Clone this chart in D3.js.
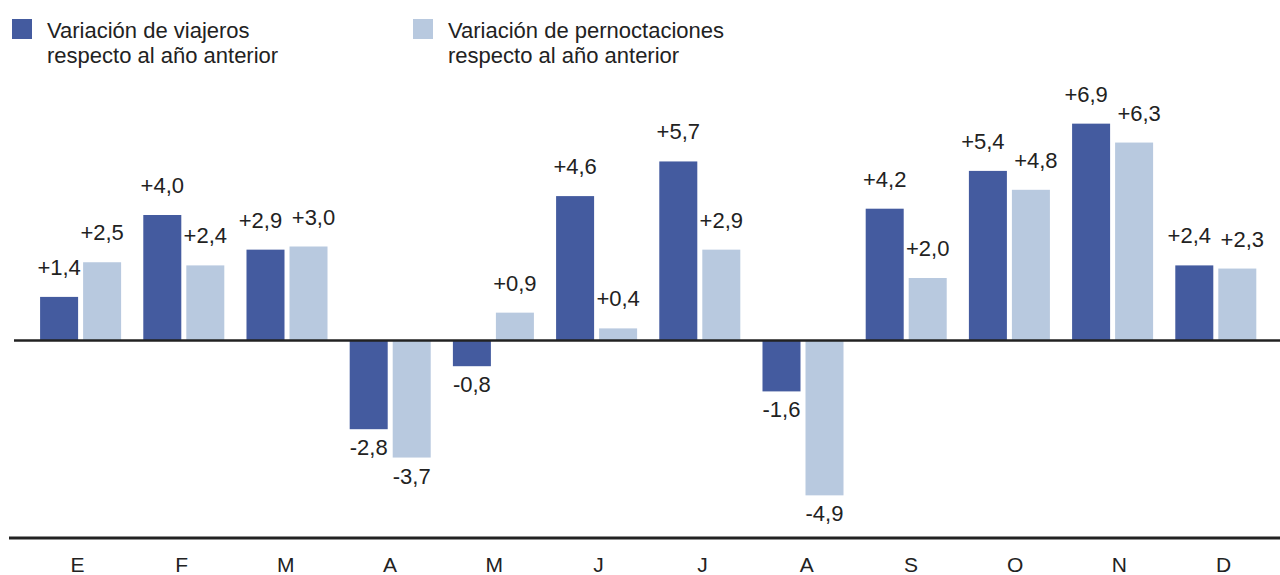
<!DOCTYPE html>
<html>
<head>
<meta charset="utf-8">
<script src="https://cdn.jsdelivr.net/npm/d3@7"></script>
<style>
  html, body { margin: 0; padding: 0; background: #fff; }
  svg { display: block; font-family: "Liberation Sans", Arial, Helvetica, sans-serif; }
</style>
</head>
<body>
<svg id="chart" width="1280" height="575"></svg>
<script>
const months = ["E","F","M","A","M","J","J","A","S","O","N","D"];
const viajeros = [1.4, 4.0, 2.9, -2.8, -0.8, 4.6, 5.7, -1.6, 4.2, 5.4, 6.9, 2.4];
const pernoctaciones = [2.5, 2.4, 3.0, -3.7, 0.9, 0.4, 2.9, -4.9, 2.0, 4.8, 6.3, 2.3];
const seriesNames = [
  ["Variación de viajeros", "respecto al año anterior"],
  ["Variación de pernoctaciones", "respecto al año anterior"]
];
const colors = ["#445b9f", "#b8c9df"];

const svg = d3.select("#chart");
const idx = d3.range(months.length);

const step = 103.2;
const x0 = d3.scaleBand().domain(idx).range([29, 29 + 12 * step]).paddingInner(0.215).paddingOuter(0.1075);
const x1 = d3.scaleBand().domain([0, 1]).range([0, x0.bandwidth()]).paddingInner(5 / 43).paddingOuter(0);
const y = d3.scaleLinear().domain([-5, 7]).range([341 + 5 * 31.5, 341 - 7 * 31.5]);
const xl = d3.scalePoint().domain(idx).range([77, 1223]);

const fmt = v => (v > 0 ? "+" : "") + d3.format(".1f")(v).replace(".", ",").replace("\u2212", "-");

const data = [viajeros, pernoctaciones];

// label positions with simple collision avoidance between the pair of a month
const labelY = (vals, i) => vals[i] >= 0 ? y(vals[i]) - 22 : y(vals[i]) + 26;
const nudge = (s, i) => {
  const a = viajeros[i], b = pernoctaciones[i];
  if (a >= 0 && b >= 0 && Math.abs(labelY(viajeros, i) - labelY(pernoctaciones, i)) < 22) {
    return s === 0 ? -5 : 5;
  }
  return 0;
};

// bars
data.forEach((vals, s) => {
  const g = svg.append("g");
  g.selectAll("rect").data(idx).join("rect")
    .attr("x", i => x0(i) + x1(s))
    .attr("width", x1.bandwidth())
    .attr("y", i => Math.min(y(vals[i]), y(0)))
    .attr("height", i => Math.abs(y(vals[i]) - y(0)))
    .attr("fill", colors[s]);
  g.selectAll("text").data(idx).join("text")
    .attr("x", i => x0(i) + x1(s) + x1.bandwidth() / 2 + nudge(s, i))
    .attr("y", i => labelY(vals, i))
    .attr("text-anchor", "middle")
    .attr("font-size", 22)
    .attr("fill", "#222")
    .text(i => fmt(vals[i]));
});

// zero line
svg.append("line")
  .attr("x1", 14).attr("x2", 1280)
  .attr("y1", y(0) - 0.5).attr("y2", y(0) - 0.5)
  .attr("stroke", "#222").attr("stroke-width", 2.5);

// bottom axis
const axis = svg.append("g").attr("transform", "translate(0,538)")
  .call(d3.axisBottom(xl).tickSize(0).tickPadding(19).tickFormat(i => months[i]));
axis.select(".domain").remove();
axis.selectAll("text").attr("font-size", 21).attr("fill", "#222")
  .attr("font-family", "\"Liberation Sans\", Arial, Helvetica, sans-serif");
svg.append("line")
  .attr("x1", 9).attr("x2", 1280)
  .attr("y1", 538).attr("y2", 538)
  .attr("stroke", "#222").attr("stroke-width", 3);

// legend
const legendX = [12, 413];
seriesNames.forEach((lines, s) => {
  const g = svg.append("g").attr("transform", `translate(${legendX[s]},0)`);
  g.append("rect").attr("x", 0).attr("y", 19).attr("width", 20).attr("height", 20).attr("fill", colors[s]);
  lines.forEach((t, k) => {
    g.append("text").attr("x", 35).attr("y", 38 + k * 25)
      .attr("font-size", 22).attr("fill", "#222").text(t);
  });
});
</script>
</body>
</html>
